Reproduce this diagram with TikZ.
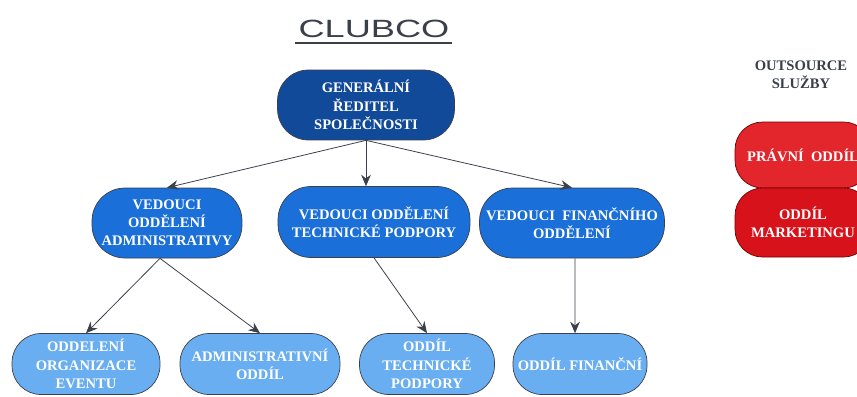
\documentclass[tikz,border=0pt]{standalone}
\usepackage{fontspec}
\setmainfont{Liberation Serif}
\newfontfamily\logofont{Liberation Sans}
\usetikzlibrary{arrows.meta}
\definecolor{bossblue}{HTML}{124A9A}
\definecolor{headblue}{HTML}{1A6FD8}
\definecolor{unitblue}{HTML}{6AAEF2}
\definecolor{linegray}{HTML}{3A3F4A}
\definecolor{outred}{HTML}{E2262B}
\definecolor{outreddark}{HTML}{D8121A}
\tikzset{
	box/.style={draw=linegray, line width=0.4pt, text=white, align=center, inner sep=0pt,
		font=\fontsize{8.3}{10.4}\selectfont\bfseries},
	bossbox/.style={box, fill=bossblue, rounded corners=0.62cm},
	headbox/.style={box, fill=headblue, rounded corners=0.66cm},
	unitbox/.style={box, fill=unitblue, rounded corners=0.58cm},
	outbox/.style={box, draw=red!45!black, rounded corners=0.55cm},
	link/.style={draw=linegray, line width=0.45pt, -{Stealth[length=6.5pt,width=5.5pt]}}
}
\begin{document}
\begin{tikzpicture}[x=0.02cm, y=-0.02cm]
			%%%%% START %%%%%
			\useasboundingbox (0, 0) rectangle (857, 396);
			\clip (0, 0) rectangle (857, 396);
			
			% title
			\node[text=linegray, font=\logofont\fontsize{14.2}{16}\selectfont, xscale=1.45] (title) at (374, 29) {CLUBCO};
			\coordinate (ulL) at (295, 43);
			\coordinate (ulR) at (452, 43);
			\draw[linegray, line width=0.9pt] (ulL) -- (ulR);
			
			% top
			\node[bossbox, minimum width=3.54cm, minimum height=1.4cm] (boss) at (366, 105) {GENERÁLNÍ\\ŘEDITEL\\SPOLEČNOSTI};
			
			% heads
			\node[headbox, minimum width=3.0cm, minimum height=1.4cm] (admin) at (167, 223) {VEDOUCI\\ODDĚLENÍ\\ADMINISTRATIVY};
			\node[headbox, minimum width=3.84cm, minimum height=1.42cm] (tech) at (374, 222) {VEDOUCI ODDĚLENÍ\\TECHNICKÉ PODPORY};
			\node[headbox, minimum width=3.7cm, minimum height=1.4cm] (fin) at (572, 223) {VEDOUCI~~FINANČNÍHO\\ODDĚLENÍ};
			
			% units
			\node[unitbox, minimum width=2.96cm, minimum height=1.22cm] (event) at (86, 364) {ODDELENÍ\\ORGANIZACE\\EVENTU};
			\node[unitbox, minimum width=3.2cm, minimum height=1.22cm] (adminunit) at (260, 364) {ADMINISTRATIVNÍ\\ODDÍL};
			\node[unitbox, minimum width=2.7cm, minimum height=1.22cm] (techunit) at (427, 364) {ODDÍL\\TECHNICKÉ\\PODPORY};
			\node[unitbox, minimum width=2.68cm, minimum height=1.22cm] (finunit) at (580, 364) {ODDÍL FINANČNÍ};
			
			% outsource
			\node[text=linegray, align=center, font=\fontsize{8.3}{10.4}\selectfont\bfseries] (outtitle) at (801, 75) {OUTSOURCE\\SLUŽBY};
			\node[outbox, fill=outred, minimum width=2.72cm, minimum height=1.32cm] (legal) at (803, 155) {PRÁVNÍ~~ODDÍL};
			\node[outbox, fill=outreddark, minimum width=2.72cm, minimum height=1.38cm] (marketing) at (803, 222.5) {ODDÍL\\MARKETINGU};
			
			% links
			\draw[link] (boss.south) -- (admin.north);
			\draw[link] (boss.south) -- (boss.south |- tech.north);
			\draw[link] (boss.south) -- (fin.north);
			\draw[link] ([xshift=-0.14cm]admin.south) -- (event.north);
			\draw[link] ([xshift=-0.14cm]admin.south) -- (adminunit.north);
			\draw[link] (tech.south) -- (techunit.north);
			\draw[link] ([xshift=0.06cm]fin.south) -- ([xshift=-0.1cm]finunit.north);
			
			%%%%% END %%%%%
		\end{tikzpicture}
\end{document}
